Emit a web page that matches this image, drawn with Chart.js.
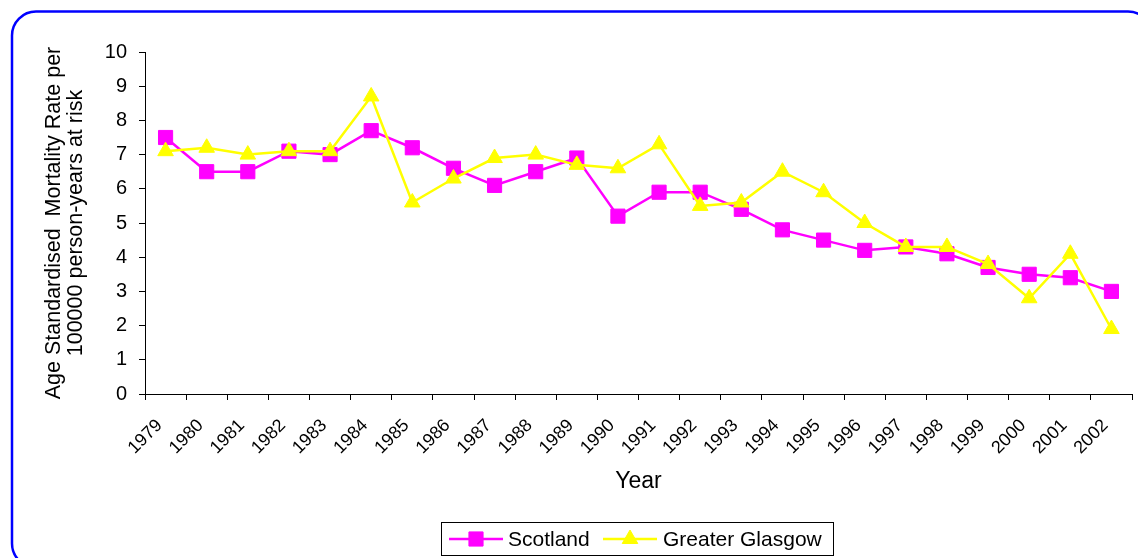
<!DOCTYPE html>
<html>
<head>
<meta charset="utf-8">
<script src="https://cdn.jsdelivr.net/npm/chart.js@4/dist/chart.umd.min.js"></script>
<style>
  html, body { margin: 0; padding: 0; background: #ffffff; }
  #wrap { width: 1138px; height: 558px; }
</style>
</head>
<body>
<div id="wrap"><canvas id="c" width="1138" height="558"></canvas></div>
<script>
// Categories and series values
const years = ['1979','1980','1981','1982','1983','1984','1985','1986','1987','1988','1989','1990',
               '1991','1992','1993','1994','1995','1996','1997','1998','1999','2000','2001','2002'];
const scotland = [7.5, 6.5, 6.5, 7.1, 7.0, 7.7, 7.2, 6.6, 6.1, 6.5, 6.9, 5.2,
                  5.9, 5.9, 5.4, 4.8, 4.5, 4.2, 4.3, 4.1, 3.7, 3.5, 3.4, 3.0];
const glasgow  = [7.1, 7.2, 7.0, 7.1, 7.1, 8.7, 5.6, 6.3, 6.9, 7.0, 6.7, 6.6,
                  7.3, 5.5, 5.6, 6.5, 5.9, 5.0, 4.3, 4.3, 3.8, 2.8, 4.1, 1.9];
const seriesNames = ['Scotland', 'Greater Glasgow'];
const yTitle = ['Age Standardised  Mortality Rate per', '100000 person-years at risk'];
const xTitle = 'Year';

const FONT = '"Liberation Sans", Arial, Helvetica, sans-serif';
const MAGENTA = '#FF00FF';
const YELLOW = '#FFFF00';

// Rounded blue frame around the whole chart
const framePlugin = {
  id: 'frame',
  afterDraw(chart) {
    const ctx = chart.ctx;
    ctx.save();
    ctx.strokeStyle = '#0000FF';
    ctx.lineWidth = 2.5;
    ctx.beginPath();
    ctx.roundRect(12, 11.5, 1140, 556, 24);
    ctx.stroke();
    ctx.restore();
  }
};

// Boxed legend below the axis: line sample with marker, then series name
const legendBoxPlugin = {
  id: 'legendBox',
  afterDraw(chart) {
    const ctx = chart.ctx;
    const box = { x: 441.5, y: 522.5, w: 392, h: 33 };
    const cy = box.y + box.h / 2;
    const starts = [449, 603];
    const textX = [508, 663];
    ctx.save();
    ctx.strokeStyle = '#000000';
    ctx.lineWidth = 1;
    ctx.strokeRect(box.x, box.y, box.w, box.h);

    chart.data.datasets.forEach((ds, i) => {
      const x0 = starts[i];
      ctx.strokeStyle = ds.borderColor;
      ctx.lineWidth = ds.borderWidth;
      ctx.beginPath();
      ctx.moveTo(x0, cy);
      ctx.lineTo(x0 + 54, cy);
      ctx.stroke();

      ctx.fillStyle = ds.pointBackgroundColor;
      ctx.strokeStyle = ds.pointBorderColor;
      ctx.lineWidth = 1;
      Chart.helpers.drawPoint(ctx, {
        pointStyle: ds.pointStyle,
        radius: ds.pointRadius,
        rotation: 0,
        borderWidth: 1
      }, x0 + 27, cy);

      ctx.fillStyle = '#000000';
      ctx.font = '21px ' + FONT;
      ctx.textAlign = 'left';
      ctx.textBaseline = 'middle';
      ctx.fillText(ds.label, textX[i], cy + 1);
    });
    ctx.restore();
  }
};

new Chart(document.getElementById('c'), {
  type: 'line',
  data: {
    labels: years,
    datasets: [
      {
        label: seriesNames[0],
        data: scotland,
        borderColor: MAGENTA,
        backgroundColor: MAGENTA,
        borderWidth: 2.5,
        pointStyle: 'rect',
        pointRadius: 10,
        pointHoverRadius: 10,
        pointBackgroundColor: MAGENTA,
        pointBorderColor: MAGENTA,
        pointBorderWidth: 1,
        tension: 0,
        order: 1
      },
      {
        label: seriesNames[1],
        data: glasgow,
        borderColor: YELLOW,
        backgroundColor: YELLOW,
        borderWidth: 2.5,
        pointStyle: 'triangle',
        pointRadius: 9,
        pointHoverRadius: 9,
        pointBackgroundColor: YELLOW,
        pointBorderColor: YELLOW,
        pointBorderWidth: 1,
        tension: 0,
        order: 0
      }
    ]
  },
  options: {
    responsive: false,
    animation: false,
    events: [],
    layout: { autoPadding: false, padding: { left: 40, right: 6, top: 52, bottom: 58 } },
    plugins: {
      legend: { display: false },
      tooltip: { enabled: false },
      title: { display: false }
    },
    scales: {
      x: {
        type: 'category',
        offset: true,
        grid: {
          offset: true,
          drawOnChartArea: false,
          drawTicks: true,
          tickLength: 6,
          color: '#000000',
          lineWidth: 1
        },
        border: { display: true, color: '#000000', width: 1 },
        ticks: {
          color: '#000000',
          font: { family: FONT, size: 18 },
          minRotation: 45,
          maxRotation: 45,
          autoSkip: false,
          padding: 15,
          labelOffset: -6
        },
        title: {
          display: true,
          text: xTitle,
          color: '#000000',
          font: { family: FONT, size: 23 },
          padding: { top: 0, bottom: 5 }
        },
        afterFit(scale) {
          scale.height = 106;
          scale.paddingLeft = 0;
          scale.paddingRight = 0;
        }
      },
      y: {
        min: 0,
        max: 10,
        grid: {
          drawOnChartArea: false,
          drawTicks: true,
          tickLength: 6,
          color: '#000000',
          lineWidth: 1
        },
        border: { display: true, color: '#000000', width: 1 },
        ticks: {
          stepSize: 1,
          color: '#000000',
          font: { family: FONT, size: 20 },
          padding: 12
        },
        title: {
          display: true,
          text: yTitle,
          color: '#000000',
          font: { family: FONT, size: 21.5, lineHeight: '22px' },
          padding: { top: 3, bottom: 0 }
        },
        afterFit(scale) { scale.width = 105; }
      }
    }
  },
  plugins: [framePlugin, legendBoxPlugin]
});
</script>
</body>
</html>
